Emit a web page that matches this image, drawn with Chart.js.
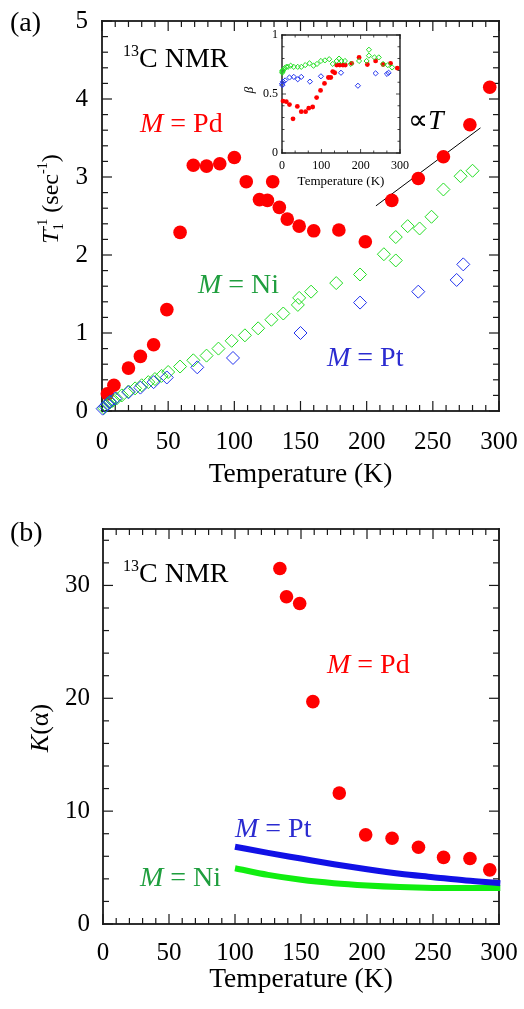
<!DOCTYPE html>
<html>
<head>
<meta charset="utf-8">
<script src="https://cdn.jsdelivr.net/npm/chart.js@4.4.1/dist/chart.umd.min.js"></script>
<style>
  body { margin: 0; background: #fff; }
  #wrap { position: relative; width: 524px; height: 1009px; }
  canvas { position: absolute; }
</style>
</head>
<body>
<div id="wrap">
  <canvas id="rateChart" width="524" height="500" style="left:0;top:0"></canvas>
  <canvas id="betaInset" width="185" height="175" style="left:230px;top:25px"></canvas>
  <canvas id="kChart" width="524" height="509" style="left:0;top:500px"></canvas>
</div>
<script>
// (a) 1/T1 vs temperature
const pdTempA = [4, 9, 20, 29, 39, 49, 59, 69, 79, 89, 100, 109, 119, 125, 129, 134, 140, 149, 160, 179, 199, 219, 239, 258, 278, 293];
const pdRateA = [0.22, 0.33, 0.55, 0.70, 0.85, 1.30, 2.29, 3.15, 3.14, 3.17, 3.25, 2.94, 2.71, 2.70, 2.94, 2.61, 2.46, 2.37, 2.31, 2.32, 2.17, 2.70, 2.98, 3.26, 3.67, 4.15];
const niTempA = [1.5, 3, 4.5, 6, 8, 11, 15, 20, 25, 30, 35, 40, 45, 50, 59, 69, 79, 88, 98, 108, 118, 128, 137, 148, 149, 158, 177, 195, 213, 222, 222, 231, 240, 249, 258, 271, 280];
const niRateA = [0.04, 0.07, 0.10, 0.11, 0.13, 0.16, 0.20, 0.25, 0.29, 0.33, 0.37, 0.41, 0.45, 0.50, 0.57, 0.65, 0.71, 0.80, 0.90, 0.97, 1.06, 1.17, 1.25, 1.36, 1.45, 1.53, 1.64, 1.75, 2.01, 1.93, 2.23, 2.37, 2.34, 2.49, 2.84, 3.01, 3.08];
const ptTempA = [0.5, 2.5, 4, 6, 10, 20, 29, 39, 49, 72, 99, 150, 195, 239, 268, 273];
const ptRateA = [0.03, 0.06, 0.09, 0.12, 0.16, 0.24, 0.30, 0.37, 0.43, 0.56, 0.68, 1.00, 1.39, 1.53, 1.68, 1.88];
const propTTemp = [207, 286];
const propTRate = [2.63, 3.63];

// inset: stretch exponent beta
const pdTempB = [2.5, 11, 19, 28, 39, 49, 60, 68, 78, 88, 98, 108, 118, 124, 129, 134, 139, 147, 155, 161, 177, 196, 217, 238, 257, 276, 293];
const pdBetaB = [0.44, 0.435, 0.41, 0.29, 0.395, 0.35, 0.35, 0.38, 0.39, 0.47, 0.53, 0.59, 0.64, 0.64, 0.69, 0.68, 0.745, 0.745, 0.745, 0.745, 0.76, 0.81, 0.75, 0.78, 0.75, 0.76, 0.72];
const niTempB = [0.5, 1, 1.5, 2.5, 7, 11, 15, 22, 30, 40, 49, 59, 70, 80, 89, 99, 109, 120, 129, 139, 145, 151, 160, 175, 196, 215, 221, 221, 235, 246, 257, 269, 280];
const niBetaB = [0.68, 0.69, 0.70, 0.70, 0.72, 0.73, 0.73, 0.74, 0.73, 0.73, 0.73, 0.745, 0.76, 0.74, 0.755, 0.78, 0.785, 0.795, 0.755, 0.78, 0.80, 0.78, 0.78, 0.755, 0.78, 0.78, 0.875, 0.825, 0.81, 0.81, 0.755, 0.745, 0.725];
const ptTempB = [0, 1, 2.5, 8, 19, 30, 40, 49, 71, 99, 150, 193, 238, 267, 271];
const ptBetaB = [0.585, 0.575, 0.605, 0.615, 0.64, 0.645, 0.625, 0.645, 0.605, 0.65, 0.68, 0.57, 0.675, 0.67, 0.68];

// (b) K(alpha) vs temperature
const pdTempK = [134, 139, 149, 159, 179, 199, 219, 239, 258, 278, 293];
const pdK = [31.5, 29.0, 28.4, 19.7, 11.6, 7.9, 7.6, 6.8, 5.9, 5.8, 4.8];
const curveTemp = [100, 125, 150, 175, 200, 225, 250, 275, 301];
const ptK = [6.85, 6.3, 5.8, 5.3, 4.85, 4.45, 4.15, 3.85, 3.62];
const niK = [4.94, 4.35, 3.92, 3.62, 3.42, 3.28, 3.2, 3.18, 3.18];

const SERIF = '"Liberation Serif", "Times New Roman", Times, serif';
Chart.defaults.font.family = SERIF;
Chart.defaults.color = '#000';

const RED = '#ff0000';
const GREEN = '#22dd22';
const BLUE = '#2233ee';
const GREEN_TXT = '#1f9e3e';
const BLUE_TXT = '#2b2bd0';
const INK = '#1a1a1a';

function pts(xs, ys) {
    return xs.map((x, i) => ({ x: x, y: ys[i] }));
}

function f(size, italic) {
    return (italic ? 'italic ' : '') + size + 'px ' + SERIF;
}

// draw a row of text pieces; a piece with "pair" stacks a superscript over a subscript
function runWidth(ctx, runs) {
    let w = 0;
    runs.forEach(r => {
        ctx.font = r.f;
        if (r.pair) w += Math.max(ctx.measureText(r.pair[0]).width, ctx.measureText(r.pair[1]).width);
        else w += ctx.measureText(r.t).width;
    });
    return w;
}

function drawRuns(ctx, x, y, runs, color, centered) {
    ctx.save();
    ctx.fillStyle = color;
    ctx.textAlign = 'left';
    ctx.textBaseline = 'alphabetic';
    let cx = centered ? x - runWidth(ctx, runs) / 2 : x;
    runs.forEach(r => {
        ctx.font = r.f;
        if (r.pair) {
            ctx.fillText(r.pair[0], cx, y + r.dy[0]);
            ctx.fillText(r.pair[1], cx, y + r.dy[1]);
            cx += Math.max(ctx.measureText(r.pair[0]).width, ctx.measureText(r.pair[1]).width);
        } else {
            ctx.fillText(r.t, cx, y + (r.dy || 0));
            cx += ctx.measureText(r.t).width;
        }
    });
    ctx.restore();
}

function drawRotated(ctx, bx, cy, runs, color) {
    ctx.save();
    ctx.translate(bx, cy);
    ctx.rotate(-Math.PI / 2);
    drawRuns(ctx, 0, 0, runs, color, true);
    ctx.restore();
}

function mLabel(ctx, x, y, metal, color, size) {
    drawRuns(ctx, x, y, [{ t: 'M', f: f(size, true) }, { t: ' = ' + metal, f: f(size) }], color);
}

function nmrLabel(ctx, x, y) {
    drawRuns(ctx, x, y, [{ t: '13', f: f(16), dy: -11 }, { t: 'C NMR', f: f(28) }], '#000');
}

// box and inward ticks on all four sides, drawn as thin filled bars
function drawFrame(chart, spec) {
    const ctx = chart.ctx;
    const a = chart.chartArea;
    const xs = chart.scales.x, ys = chart.scales.y;
    const tw = spec.tickWidth, bw = spec.boxWidth;
    ctx.save();
    ctx.fillStyle = INK;
    const nx = Math.floor((xs.max - xs.min) / spec.xMinor + 1e-6);
    for (let i = 0; i <= nx; i++) {
        const v = xs.min + i * spec.xMinor;
        const major = Math.abs(v / spec.xMajor - Math.round(v / spec.xMajor)) < 1e-6;
        const len = major ? spec.majorLen : spec.minorLen;
        const px = xs.getPixelForValue(v);
        ctx.fillRect(px - tw / 2, a.bottom - len, tw, len);
        ctx.fillRect(px - tw / 2, a.top, tw, len);
    }
    const ny = Math.floor((ys.max - ys.min) / spec.yMinor + 1e-6);
    for (let i = 0; i <= ny; i++) {
        const v = ys.min + i * spec.yMinor;
        const major = Math.abs(v / spec.yMajor - Math.round(v / spec.yMajor)) < 1e-6;
        const len = major ? spec.majorLen : spec.minorLen;
        const py = ys.getPixelForValue(v);
        ctx.fillRect(a.left, py - tw / 2, len, tw);
        ctx.fillRect(a.right - len, py - tw / 2, len, tw);
    }
    ctx.fillRect(a.left - bw / 2, a.top - bw / 2, a.right - a.left + bw, bw);
    ctx.fillRect(a.left - bw / 2, a.bottom - bw / 2, a.right - a.left + bw, bw);
    ctx.fillRect(a.left - bw / 2, a.top - bw / 2, bw, a.bottom - a.top + bw);
    ctx.fillRect(a.right - bw / 2, a.top - bw / 2, bw, a.bottom - a.top + bw);
    ctx.restore();
}

function framePlugin(spec) {
    return {
        id: 'boxTicks',
        beforeDatasetsDraw(chart) {
            drawFrame(chart, spec);
        },
        afterDraw(chart) {
            spec.texts(chart.ctx, chart);
        }
    };
}

function noPad(s) {
    s.paddingTop = 0; s.paddingBottom = 0; s.paddingLeft = 0; s.paddingRight = 0;
}

function axes(o) {
    return {
        x: {
            type: 'linear', min: o.xMin, max: o.xMax,
            grid: { display: false, drawTicks: false, tickLength: 0 }, border: { display: false },
            ticks: { stepSize: o.xStep, padding: o.xPad, font: { size: o.tickSize }, maxRotation: 0, autoSkip: false,
                     callback: v => String(v) },
            afterFit(s) { s.height = o.xHeight; noPad(s); }
        },
        y: {
            type: 'linear', min: o.yMin, max: o.yMax,
            grid: { display: false, drawTicks: false, tickLength: 0 }, border: { display: false },
            ticks: { stepSize: o.yStep, padding: o.yPad, font: { size: o.tickSize }, autoSkip: false,
                     callback: v => String(v) },
            afterFit(s) { s.width = o.yWidth; noPad(s); },
            afterBuildTicks(s) {
                s.ticks = s.ticks.filter(t => Math.abs(t.value / o.yStep - Math.round(t.value / o.yStep)) < 1e-6);
            }
        }
    };
}

const common = {
    responsive: false,
    animation: false,
    events: [],
    plugins: { legend: { display: false }, tooltip: { enabled: false } }
};

function diamonds(data, color, r, order) {
    return { data: data, pointStyle: 'rectRot', pointRadius: r, borderColor: color, borderWidth: 1,
             backgroundColor: 'rgba(0,0,0,0)', showLine: false, clip: false, order: order };
}
function dots(data, r, order) {
    return { data: data, pointStyle: 'circle', pointRadius: r, backgroundColor: RED, borderWidth: 0,
             showLine: false, clip: false, order: order };
}

// ---- panel (a)
new Chart(document.getElementById('rateChart'), {
    type: 'scatter',
    data: {
        datasets: [
            diamonds(pts(ptTempA, ptRateA), BLUE, 6.5, 1),
            diamonds(pts(niTempA, niRateA), GREEN, 6.5, 2),
            dots(pts(pdTempA, pdRateA), 6.8, 3),
            { data: pts(propTTemp, propTRate), showLine: true, borderColor: '#000', borderWidth: 1,
              pointRadius: 0, order: 4 }
        ]
    },
    options: Object.assign({}, common, {
        layout: { autoPadding: false, padding: { left: 0, right: 25, top: 21, bottom: 0 } },
        scales: axes({ xMin: 0, xMax: 300, xStep: 50, yMin: 0, yMax: 5, yStep: 1, tickSize: 25,
                       xPad: 16, yPad: 14, xHeight: 89, yWidth: 102 })
    }),
    plugins: [framePlugin({
        xMajor: 50, xMinor: 10, yMajor: 1, yMinor: 0.2, majorLen: 10, minorLen: 6, tickWidth: 1.2, boxWidth: 1.8,
        texts(ctx, chart) {
            drawRuns(ctx, 10, 31, [{ t: '(a)', f: f(28) }], '#000');
            nmrLabel(ctx, 123, 67);
            mLabel(ctx, 140, 132, 'Pd', RED, 28);
            mLabel(ctx, 198, 293, 'Ni', GREEN_TXT, 28);
            mLabel(ctx, 327, 366, 'Pt', BLUE_TXT, 28);
            drawRuns(ctx, 408, 129, [{ t: '\u221D', f: f(28) }, { t: 'T', f: f(28, true) }], '#000');
            drawRuns(ctx, 300.5, 482, [{ t: 'Temperature (K)', f: f(27.5) }], '#000', true);
            drawRotated(ctx, 58, 199, [
                { t: 'T', f: f(24, true) },
                { pair: ['-1', '1'], f: f(14), dy: [-11, 5] },
                { t: ' (sec', f: f(24) },
                { t: '-1', f: f(14), dy: -11 },
                { t: ')', f: f(24) }
            ], '#000');
        }
    })]
});

// ---- inset of panel (a)
new Chart(document.getElementById('betaInset'), {
    type: 'scatter',
    data: {
        datasets: [
            diamonds(pts(ptTempB, ptBetaB), BLUE, 2.6, 1),
            diamonds(pts(niTempB, niBetaB), GREEN, 2.6, 2),
            dots(pts(pdTempB, pdBetaB), 2.4, 3)
        ]
    },
    options: Object.assign({}, common, {
        layout: { autoPadding: false, padding: { left: 0, right: 15, top: 10, bottom: 0 } },
        scales: axes({ xMin: 0, xMax: 300, xStep: 100, yMin: 0, yMax: 1, yStep: 0.5, tickSize: 12,
                       xPad: 6, yPad: 4, xHeight: 47, yWidth: 52 })
    }),
    plugins: [framePlugin({
        xMajor: 100, xMinor: 100 / 3, yMajor: 0.5, yMinor: 0.1, majorLen: 4, minorLen: 2.5, tickWidth: 0.8, boxWidth: 1.4,
        texts(ctx, chart) {
            drawRuns(ctx, 111, 160, [{ t: 'Temperature (K)', f: f(13) }], '#000', true);
            drawRotated(ctx, 23, 65, [{ t: '\u03B2', f: f(13, true) }], '#000');
        }
    })]
});

// ---- panel (b)
new Chart(document.getElementById('kChart'), {
    type: 'scatter',
    data: {
        datasets: [
            dots(pts(pdTempK, pdK), 6.8, 1),
            { data: pts(curveTemp, ptK), showLine: true, borderColor: '#1111e6', borderWidth: 6, pointRadius: 0,
              cubicInterpolationMode: 'monotone', borderCapStyle: 'butt', clip: false, order: 2 },
            { data: pts(curveTemp, niK), showLine: true, borderColor: '#11ee11', borderWidth: 6, pointRadius: 0,
              cubicInterpolationMode: 'monotone', borderCapStyle: 'butt', clip: false, order: 3 }
        ]
    },
    options: Object.assign({}, common, {
        layout: { autoPadding: false, padding: { left: 0, right: 25, top: 29, bottom: 0 } },
        scales: axes({ xMin: 0, xMax: 300, xStep: 50, yMin: 0, yMax: 35, yStep: 10, tickSize: 25,
                       xPad: 14, yPad: 13, xHeight: 85, yWidth: 103 })
    }),
    plugins: [framePlugin({
        xMajor: 50, xMinor: 10, yMajor: 10, yMinor: 2, majorLen: 10, minorLen: 6, tickWidth: 1.2, boxWidth: 1.8,
        texts(ctx, chart) {
            drawRuns(ctx, 10, 41, [{ t: '(b)', f: f(28) }], '#000');
            nmrLabel(ctx, 123, 82);
            mLabel(ctx, 327, 173, 'Pd', RED, 28);
            mLabel(ctx, 235, 337, 'Pt', BLUE_TXT, 28);
            mLabel(ctx, 140, 386, 'Ni', GREEN_TXT, 28);
            drawRuns(ctx, 301, 487, [{ t: 'Temperature (K)', f: f(27.5) }], '#000', true);
            drawRotated(ctx, 48, 228, [{ t: 'K', f: f(26, true) }, { t: '(\u03B1)', f: f(26) }], '#000');
        }
    })]
});
</script>
</body>
</html>
